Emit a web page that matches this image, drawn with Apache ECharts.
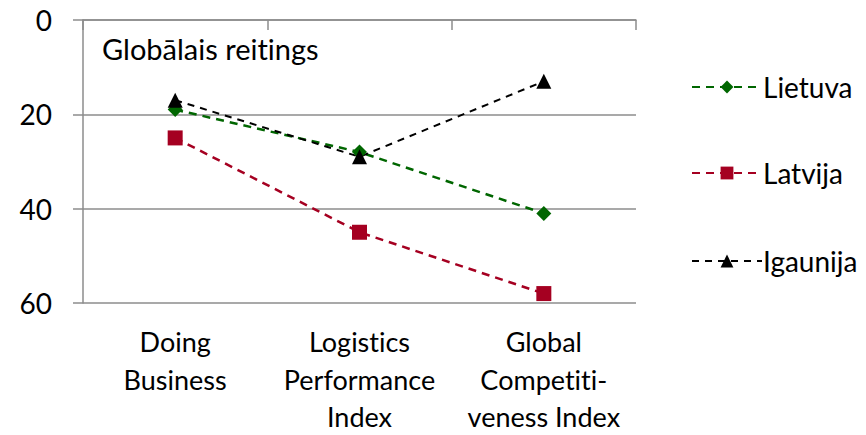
<!DOCTYPE html>
<html><head><meta charset="utf-8">
<script src="https://cdn.jsdelivr.net/npm/echarts@6/dist/echarts.min.js"></script>
<style>html,body{margin:0;padding:0;background:#fff;overflow:hidden;width:866px;height:435px}#c{width:866px;height:435px}
#c svg{display:block}
svg text{font-variant-ligatures:none;font-feature-settings:"liga" 0,"clig" 0,"dlig" 0}</style>
</head><body><div id="c"></div>
<script>
const categories = ['Doing\nBusiness', 'Logistics\nPerformance\nIndex', 'Global\nCompetiti-\nveness Index'];
const lietuva = [19, 28, 41];
const latvija = [25, 45, 58];
const igaunija = [17, 29, 13];
const yTicks = [0, 20, 40, 60];
const titleText = 'Globālais reitings';

const FONT = 'Lato';
const chart = echarts.init(document.getElementById('c'), null, {renderer: 'svg', width: 866, height: 435});
function leg(name, top) {
  return {
    data: [name], left: 686, top: top, orient: 'vertical',
    itemWidth: 70, itemHeight: 16, itemGap: 0,
    textStyle: {fontFamily: FONT, fontSize: 28, color: '#000', padding: [0,0,0,-4]},
    selectedMode: false
  };
}
chart.setOption({
  animation: false,
  title: {text: titleText, left: 97, top: 29, textStyle: {fontFamily: FONT, fontSize: 29, fontWeight: 'normal', color: '#000'}},
  legend: [leg('Lietuva', 68), leg('Latvija', 154), leg('Igaunija', 242)],
  grid: {left: 83, right: 230, top: 20, bottom: 132, containLabel: false, outerBoundsMode: 'none'},
  xAxis: {
    type: 'category', data: categories, boundaryGap: true,
    axisLine: {show: true, lineStyle: {color: '#8c8c8c', width: 1.5}},
    axisTick: {show: true, length: 10, lineStyle: {color: '#8c8c8c', width: 1.5}},
    axisLabel: {fontFamily: FONT, fontSize: 27, color: '#000', margin: 20, lineHeight: 37.5, interval: 0}
  },
  yAxis: {
    type: 'value', inverse: true, min: yTicks[0], max: yTicks[yTicks.length-1], interval: 20,
    axisLine: {show: true, lineStyle: {color: '#8c8c8c', width: 1.5}},
    axisTick: {show: true, length: 10, lineStyle: {color: '#8c8c8c', width: 1.5}},
    splitLine: {show: true, lineStyle: {color: '#8c8c8c', width: 1.5}},
    axisLabel: {fontFamily: FONT, fontSize: 28, color: '#000', margin: 31}
  },
  series: [
    {name: 'Lietuva', type: 'line', data: lietuva, symbol: 'diamond', symbolSize: 15,
     itemStyle: {color: '#006600'}, lineStyle: {color: '#006600', width: 2.5, type: [8, 6]}},
    {name: 'Latvija', type: 'line', data: latvija, symbol: 'rect', symbolSize: 15,
     itemStyle: {color: '#A50021'}, lineStyle: {color: '#A50021', width: 2.5, type: [8, 6]}},
    {name: 'Igaunija', type: 'line', data: igaunija, symbol: 'triangle', symbolSize: 15,
     itemStyle: {color: '#000'}, lineStyle: {color: '#000', width: 2, type: [7, 6]}}
  ]
});
</script></body></html>
